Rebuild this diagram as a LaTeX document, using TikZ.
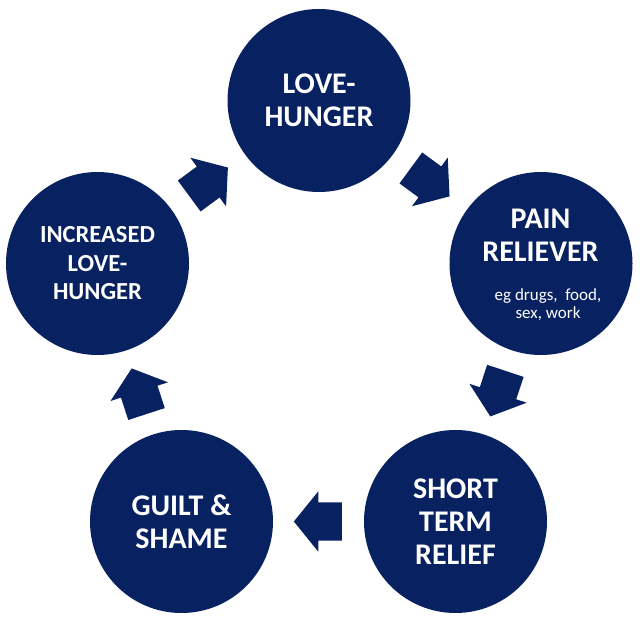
\documentclass[tikz,border=0pt]{standalone}
\usepackage{fontspec}
\setmainfont{Carlito}
\usetikzlibrary{calc,shapes.arrows}

\definecolor{hubblue}{RGB}{8,33,96}

\begin{document}
\begin{tikzpicture}[
    x=1pt,y=1pt,
    hub/.style={circle,fill=hubblue,text=white,minimum size=183pt,inner sep=0pt,align=center,
      font=\bfseries\fontsize{30}{33}\selectfont},
    bigtext/.style={text=white,align=center,inner sep=0pt,font=\bfseries\fontsize{30}{33}\selectfont},
    smalltext/.style={text=white,align=center,inner sep=0pt,font=\fontsize{17}{18}\selectfont},
    flow/.style={single arrow,fill=hubblue,sloped,allow upside down,
      inner xsep=0pt,inner ysep=19pt,minimum height=48pt,
      single arrow head extend=11pt,single arrow head indent=0pt,
      single arrow tip angle=102,anchor=tail,pos=0.24}
  ]
    \useasboundingbox (0,0) rectangle (640,624);

    % the five stages
    \node[hub] (lh) at (319,523.5) {LOVE-\\HUNGER};
    \node[hub] (pr) at (541,360.5) {};
    \node[bigtext] (prt) at (540.5,389) {PAIN\\RELIEVER};
    \node[smalltext] (prs) at (548,319) {eg drugs,\ \ food,\\sex, work};
    \node[hub] (st) at (455.5,102.5) {SHORT\\TERM\\RELIEF};
    \node[hub] (gs) at (181.5,102.5) {GUILT \&\\SHAME};
    \node[hub,font=\bfseries\fontsize{24.5}{28.5}\selectfont] (il) at (97.5,360.5)
      {INCREASED\\LOVE-\\HUNGER};

    % block arrows round the cycle
    \path (lh) -- node[flow] (a1) {} (pr);
    \path (pr) -- node[flow] (a2) {} (st);
    \path (st) -- node[flow] (a3) {} (gs);
    \path (gs) -- node[flow] (a4) {} (il);
    \path (il) -- node[flow] (a5) {} (lh);
\end{tikzpicture}
\end{document}
